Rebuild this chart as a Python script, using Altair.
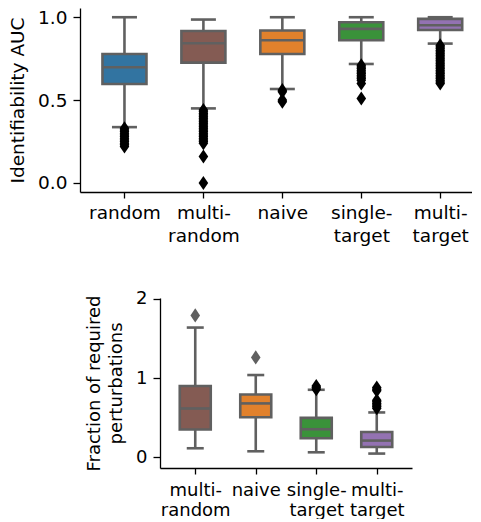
import altair as alt
import pandas as pd

# ---------------- top panel data ----------------
top_labels = ["random", "multi-|random", "naive", "single-|target", "multi-|target"]
top_colors = ["#3274a1", "#845b53", "#e1812c", "#3a923a", "#9372b2"]
top_q1 = [0.597, 0.726, 0.778, 0.861, 0.923]
top_med = [0.698, 0.843, 0.861, 0.930, 0.952]
top_q3 = [0.778, 0.917, 0.920, 0.970, 0.990]
top_lo = [0.337, 0.450, 0.567, 0.718, 0.841]
top_hi = [1.000, 0.986, 1.000, 1.000, 1.000]
top_out_random = [0.33, 0.32, 0.31, 0.30, 0.29, 0.28, 0.27, 0.26, 0.25, 0.24, 0.23, 0.22]
top_out_multirandom = [0.44, 0.43, 0.42, 0.41, 0.40, 0.39, 0.38, 0.37, 0.36, 0.35, 0.34,
                       0.33, 0.32, 0.31, 0.30, 0.29, 0.28, 0.27, 0.26, 0.25, 0.24, 0.16, 0.0]
top_out_naive = [0.56, 0.55, 0.50, 0.49]
top_out_single = [0.71, 0.70, 0.69, 0.68, 0.67, 0.66, 0.65, 0.64, 0.63, 0.62, 0.60, 0.51]
top_out_multitarget = [0.83, 0.82, 0.81, 0.80, 0.79, 0.78, 0.77, 0.76, 0.75, 0.74, 0.73,
                       0.72, 0.71, 0.70, 0.69, 0.68, 0.67, 0.66, 0.65, 0.64, 0.63, 0.62, 0.61, 0.60]

# ---------------- bottom panel data ----------------
bot_labels = ["multi-|random", "naive", "single-|target", "multi-|target"]
bot_colors = ["#845b53", "#e1812c", "#3a923a", "#9372b2"]
bot_q1 = [0.350, 0.506, 0.240, 0.130]
bot_med = [0.616, 0.680, 0.354, 0.211]
bot_q3 = [0.899, 0.793, 0.498, 0.320]
bot_lo = [0.114, 0.076, 0.063, 0.047]
bot_hi = [1.637, 1.038, 0.852, 0.566]
bot_out_multirandom = [1.79]
bot_out_naive = [1.26]
bot_out_single = [0.86, 0.88, 0.90]
bot_out_multitarget = [0.62, 0.64, 0.66, 0.68, 0.70, 0.72, 0.84, 0.86, 0.88]

GRAY = "#606060"
FONT = "DejaVu Sans"
DIAMOND = "M0,-1L0.68,0L0,1L-0.68,0Z"


def stats_df(q1, med, q3, lo, hi, colors):
    return pd.DataFrame({"i": list(range(len(q1))), "q1": q1, "med": med,
                         "q3": q3, "lo": lo, "hi": hi, "fill": colors})


def out_df(groups, colors):
    rows = []
    for i, (vals, c) in enumerate(zip(groups, colors)):
        for v in vals:
            rows.append({"i": i, "v": v, "c": c})
    return pd.DataFrame(rows)


def panel(stats, outs, labels, xdom, ydom, yvals, yfmt, ytitle,
          width, height, box_w, cap_w, fsize, lh, title_lh, xpad):
    n = len(labels)
    label_arr = "[" + ",".join("'" + l + "'" for l in labels) + "]"
    xenc = alt.X("i:Q", scale=alt.Scale(domain=xdom, nice=False, zero=False),
                 axis=alt.Axis(values=list(range(n)), title=None, grid=False,
                               labelExpr="split(" + label_arr + "[datum.value], '|')",
                               labelLineHeight=lh, tickSize=6, labelPadding=xpad,
                               labelFontSize=fsize, labelFont=FONT, labelColor="black",
                               domainColor="black", tickColor="black",
                               domainWidth=1.3, tickWidth=1.3, labelAngle=0,
                               labelBaseline="top", labelFlush=False, labelOverlap=False))
    yscale = alt.Scale(domain=ydom, nice=False, zero=False)
    yaxis = alt.Axis(values=yvals, format=yfmt, title=ytitle, grid=False,
                     tickSize=7, labelPadding=6, labelFontSize=fsize, labelFont=FONT,
                     labelColor="black", titleFont=FONT, titleFontSize=fsize,
                     titleFontWeight="normal", titleColor="black", titlePadding=10,
                     titleLineHeight=title_lh,
                     domainColor="black", tickColor="black", domainWidth=1.3,
                     tickWidth=1.3, labelFlush=False)
    base = alt.Chart(stats)
    whisk = base.mark_rule(color=GRAY, strokeWidth=2.6).encode(
        x=xenc, y=alt.Y("lo:Q", scale=yscale, axis=yaxis), y2="hi:Q")
    box = base.mark_bar(size=box_w, stroke=GRAY, strokeWidth=2.6, opacity=1).encode(
        x="i:Q", y="q1:Q", y2="q3:Q", fill=alt.Fill("fill:N", scale=None))
    med = base.mark_tick(orient="horizontal", size=box_w, thickness=2.6, color=GRAY,
                         opacity=1).encode(x="i:Q", y="med:Q")
    cap_lo = base.mark_tick(orient="horizontal", size=cap_w, thickness=2.6, color=GRAY,
                            opacity=1).encode(x="i:Q", y="lo:Q")
    cap_hi = base.mark_tick(orient="horizontal", size=cap_w, thickness=2.6, color=GRAY,
                            opacity=1).encode(x="i:Q", y="hi:Q")
    pts = alt.Chart(outs).mark_point(shape=DIAMOND, filled=True, size=200, opacity=1,
                                     strokeWidth=0).encode(
        x="i:Q", y="v:Q", color=alt.Color("c:N", scale=None))
    return alt.layer(whisk, box, med, cap_lo, cap_hi, pts).properties(width=width, height=height)


top_stats = stats_df(top_q1, top_med, top_q3, top_lo, top_hi, top_colors)
top_outs = out_df([top_out_random, top_out_multirandom, top_out_naive, top_out_single,
                   top_out_multitarget], ["black"] * 5)
top_w = 392
top = panel(top_stats, top_outs, top_labels,
            [-0.5, -0.5 + top_w / 81.0], [-0.0543, 1.0557], [0, 0.5, 1.0], ".1f",
            "Identifiability AUC", top_w, 184, 44, 25, 18.5, 23, 22, 5)

bot_stats = stats_df(bot_q1, bot_med, bot_q3, bot_lo, bot_hi, bot_colors)
bot_outs = out_df([bot_out_multirandom, bot_out_naive, bot_out_single, bot_out_multitarget],
                  [GRAY, GRAY, "black", "black"])
bot = panel(bot_stats, bot_outs, bot_labels,
            [-0.5, 3.5], [-0.135, 2.01], [0, 1, 2], "d",
            ["Fraction of required", "perturbations"], 252, 170, 31, 17, 18, 20, 22, 7)

spacer = alt.Chart(pd.DataFrame({"a": [0]})).mark_point(opacity=0).encode(
    x=alt.X("a:Q", axis=None), y=alt.Y("a:Q", axis=None)).properties(width=3, height=1)

chart = alt.vconcat(top, alt.hconcat(spacer, bot, spacing=0), spacing=44).properties(
    padding={"left": 0, "top": 0, "right": 0, "bottom": 0},
    background="white",
).configure_view(strokeWidth=0, stroke="transparent")

chart.save("out.html", embed_options={"renderer": "svg", "actions": False})
